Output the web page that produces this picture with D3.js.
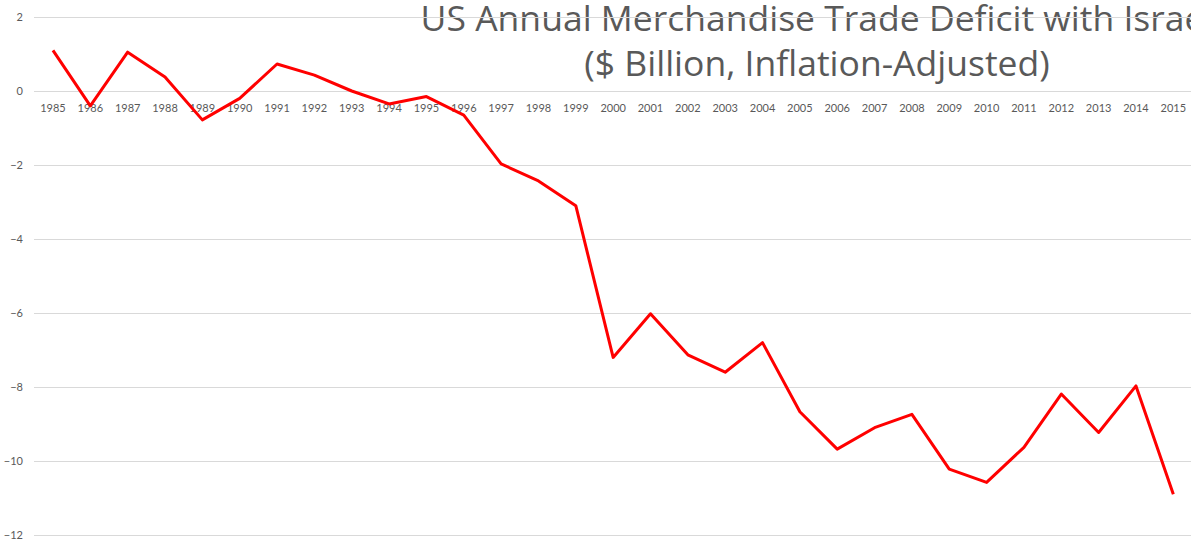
<!DOCTYPE html>
<html>
<head>
<meta charset="utf-8">
<script src="https://cdn.jsdelivr.net/npm/d3@7"></script>
<style>
  html, body { margin: 0; padding: 0; background: #fff; overflow: hidden; }
  svg { display: block; }
</style>
</head>
<body>
<script>
// US merchandise trade balance with Israel, $ billion (inflation-adjusted)
const years = ["1985","1986","1987","1988","1989","1990","1991","1992","1993","1994",
  "1995","1996","1997","1998","1999","2000","2001","2002","2003","2004",
  "2005","2006","2007","2008","2009","2010","2011","2012","2013","2014","2015"];
const balance = [1.1, -0.4, 1.05, 0.38, -0.78, -0.2, 0.73, 0.43, 0.0, -0.35,
  -0.15, -0.65, -1.97, -2.43, -3.1, -7.2, -6.02, -7.13, -7.6, -6.8,
  -8.67, -9.68, -9.1, -8.74, -10.22, -10.58, -9.63, -8.19, -9.23, -7.97, -10.9];
const yTicks = [2, 0, -2, -4, -6, -8, -10, -12];
const titleLines = ["US Annual Merchandise Trade Deficit with Israel",
  "($ Billion, Inflation-Adjusted)"];

const W = 1191, H = 550;
const svg = d3.select("body").append("svg").attr("width", W).attr("height", H);

const x = d3.scaleBand().domain(years).range([34.3, 1192]).paddingInner(0).paddingOuter(0);
const y = d3.scaleLinear().domain([-12, 2]).range([535, 17]);

// Title (sits behind the gridlines)
const title = svg.append("g")
  .attr("font-family", "'Open Sans', sans-serif")
  .attr("font-weight", 400)
  .attr("fill", "#595959")
  .attr("text-anchor", "middle");
title.append("text").attr("x", 817).attr("y", 31).attr("font-size", 35.5).text(titleLines[0]);
title.append("text").attr("x", 817).attr("y", 76).attr("font-size", 35.5).text(titleLines[1]);

// Horizontal gridlines with value labels
const yAxis = d3.axisLeft(y).tickValues(yTicks).tickSize(-(W - 34)).tickPadding(11)
  .tickFormat(d3.format("d"));
const gy = svg.append("g").attr("transform", "translate(34,0)").call(yAxis);
gy.select(".domain").remove();
gy.selectAll(".tick line").attr("stroke", "#d9d9d9").attr("stroke-width", 1);
gy.selectAll(".tick text")
  .attr("x", -11)
  .attr("fill", "#595959")
  .attr("font-family", "Lato, 'Open Sans', sans-serif")
  .attr("font-size", 11);

// Year labels just below the zero line
const xAxis = d3.axisBottom(x).tickSize(0).tickPadding(0);
const gx = svg.append("g").attr("transform", `translate(0,${y(0)})`).call(xAxis);
gx.select(".domain").remove();
gx.selectAll(".tick text")
  .attr("dy", 0)
  .attr("y", 20.5)
  .attr("fill", "#595959")
  .attr("font-family", "Lato, 'Open Sans', sans-serif")
  .attr("font-size", 11);

// Trade balance line
const line = d3.line()
  .x((d, i) => x(years[i]) + x.bandwidth() / 2)
  .y(d => y(d));
svg.append("path")
  .datum(balance)
  .attr("fill", "none")
  .attr("stroke", "#ff0000")
  .attr("stroke-width", 3)
  .attr("stroke-linejoin", "round")
  .attr("d", line);
</script>
</body>
</html>
